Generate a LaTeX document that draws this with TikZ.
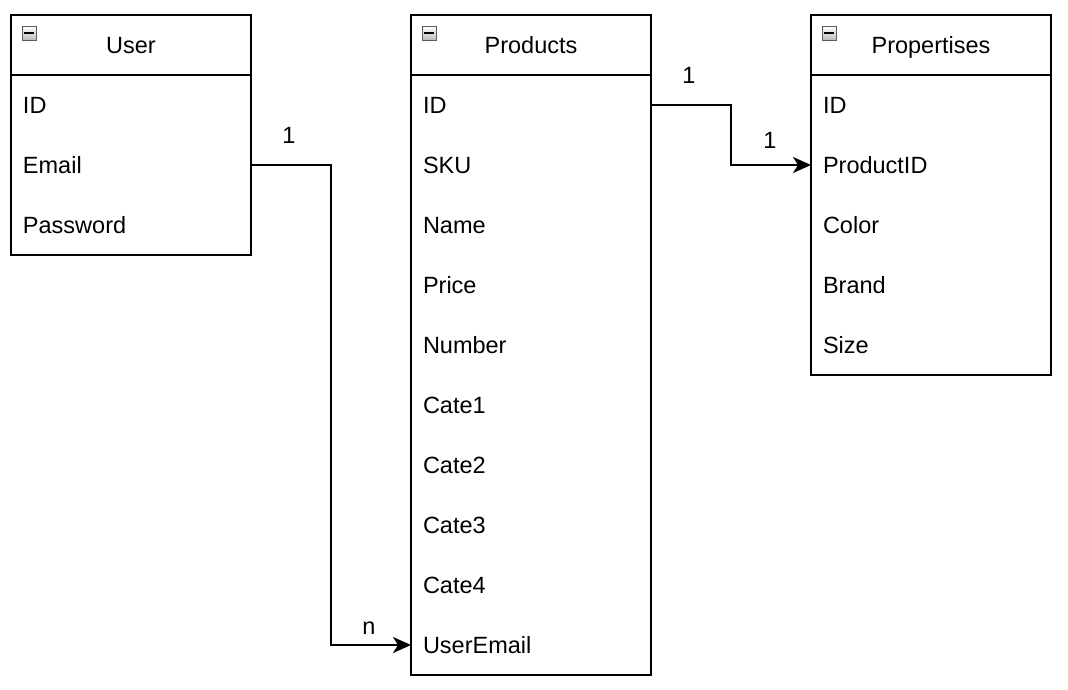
\documentclass[tikz,border=0pt]{standalone}
\usepackage{fontspec}
\setmainfont{Liberation Sans}
\usetikzlibrary{arrows.meta,positioning}
\tikzset{
  x=1pt,y=-1pt,
  row/.style={minimum height=60pt,text width=216pt,text height=17pt,text depth=0pt,inner xsep=12pt,inner ysep=0pt,outer sep=0pt,align=left,anchor=north west,font=\fontsize{23.5}{26}\selectfont},
  hdr/.style={row,align=center},
  tbl/.style={draw,line width=1.8pt},
  conn/.style={line width=1.8pt,-{Stealth[length=18pt,width=16pt,inset=5pt]}},
  lbl/.style={font=\fontsize{23.5}{26}\selectfont,inner sep=0pt,text height=17pt,text depth=0pt},
  icon/.style={draw=gray!70!black,line width=0.8pt,top color=white,bottom color=gray!55,minimum size=14pt,inner sep=0pt,anchor=north west}
}
\begin{document}
\begin{tikzpicture}
\useasboundingbox (0,0) rectangle (1068,690);
% User
\node[hdr] (uH) at (11,15) {User};
\node[row] (uID) at (11,75) {ID};
\node[row] (uEmail) at (11,135) {Email};
\node[row] (uPass) at (11,195) {Password};
\draw[tbl] (11,15) rectangle (251,255);
\draw[tbl] (11,75) -- (251,75);
% Products
\node[hdr] (pH) at (411,15) {Products};
\node[row] (pID) at (411,75) {ID};
\node[row] (pSKU) at (411,135) {SKU};
\node[row] (pName) at (411,195) {Name};
\node[row] (pPrice) at (411,255) {Price};
\node[row] (pNumber) at (411,315) {Number};
\node[row] (pC1) at (411,375) {Cate1};
\node[row] (pC2) at (411,435) {Cate2};
\node[row] (pC3) at (411,495) {Cate3};
\node[row] (pC4) at (411,555) {Cate4};
\node[row] (pUserEmail) at (411,615) {UserEmail};
\draw[tbl] (411,15) rectangle (651,675);
\draw[tbl] (411,75) -- (651,75);
% Propertises
\node[hdr] (qH) at (811,15) {Propertises};
\node[row] (qID) at (811,75) {ID};
\node[row] (qPID) at (811,135) {ProductID};
\node[row] (qColor) at (811,195) {Color};
\node[row] (qBrand) at (811,255) {Brand};
\node[row] (qSize) at (811,315) {Size};
\draw[tbl] (811,15) rectangle (1051,375);
\draw[tbl] (811,75) -- (1051,75);
% icons
\foreach \n/\x in {iu/22,ip/422,iq/822}{
  \node[icon] (\n) at (\x,26) {};
  \draw[line width=1.8pt] ([xshift=-5pt]\n.center) -- ([xshift=5pt]\n.center);
}
% connectors
\draw[conn] (uEmail.east) -- ++(80,0) |- (pUserEmail.west);
\draw[conn] (pID.east) -- ++(80,0) |- (qPID.west);
% labels
\node[lbl] (l1) at (289,135) {1};
\node[lbl] (l2) at (369,626) {n};
\node[lbl] (l3) at (689,75) {1};
\node[lbl] (l4) at (770,140) {1};
\end{tikzpicture}
\end{document}
